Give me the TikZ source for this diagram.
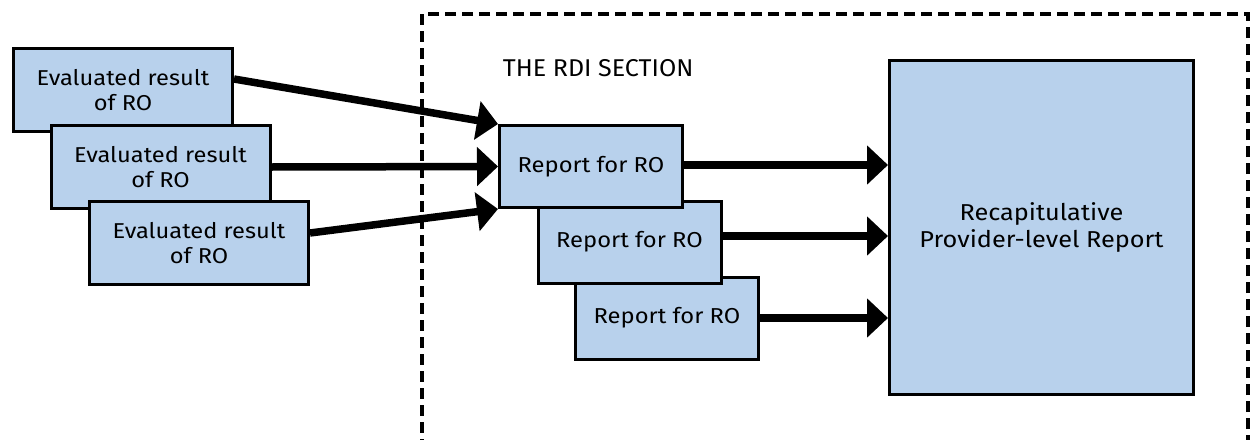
\documentclass[tikz,border=0pt]{standalone}
\usepackage{fontspec}
\setmainfont{Fira Sans}[FakeStretch=1.1]
\newfontfamily\titlefont{Fira Sans}[FakeStretch=1.03]
\usetikzlibrary{arrows.meta,calc}
\definecolor{boxblue}{RGB}{184,209,236}
\tikzset{
  evalbox/.style={draw=black, line width=3pt, fill=boxblue, minimum width=219pt, minimum height=83pt, inner sep=0pt, align=center, font=\fontsize{21.5}{25.3}\selectfont},
  repbox/.style={draw=black, line width=3pt, fill=boxblue, minimum width=183pt, minimum height=82pt, inner sep=0pt, align=center, font=\fontsize{21.6}{25}\selectfont},
  bigbox/.style={draw=black, line width=3pt, fill=boxblue, minimum width=304pt, minimum height=334pt, inner sep=0pt, align=center, font=\fontsize{23}{27}\selectfont},
  fatarrow/.style={line width=7.5pt, -{Triangle[length=21pt, width=38pt]}},
  sectionframe/.style={line width=3.5pt, dash pattern=on 11pt off 6pt}
}
\begin{document}
\begin{tikzpicture}[x=1pt, y=-1pt]
\useasboundingbox (0,0) rectangle (1257,439);
\clip (0,0) rectangle (1257,439);
\fill[white] (0,0) rectangle (1257,439);
\draw[sectionframe] (422,14) rectangle (1248,480);
\node[anchor=base west, inner sep=0pt, font=\titlefont\fontsize{24.3}{28}\selectfont] (title) at (502.7,76.7) {THE RDI SECTION};
\node[evalbox] (e1) at (123,90) {Evaluated result\\of RO};
\node[evalbox] (e2) at (160.5,167) {Evaluated result\\of RO};
\node[evalbox] (e3) at (199,243) {Evaluated result\\of RO};
\node[bigbox] (big) at (1041.5,227.5) {Recapitulative\\Provider-level Report};
\node[repbox] (r3) at (667,318) {Report for RO};
\node[repbox] (r2) at (629.5,242) {Report for RO};
\node[repbox] (r1) at (591,166.5) {Report for RO};
\coordinate (e1o) at ($(e1.east)+(0,-11)$);
\coordinate (e3o) at ($(e3.east)+(0,-10)$);
\coordinate (r1o) at ($(r1.east)+(0,-1.5)$);
\coordinate (r2o) at ($(r2.east)+(0,-6)$);
\draw[fatarrow] (e1o) -- (r1.north west);
\draw[fatarrow] (e2.east) -- (r1.west);
\draw[fatarrow] (e3o) -- (r1.south west);
\draw[fatarrow] (r1o) -- (r1o -| big.west);
\draw[fatarrow] (r2o) -- (r2o -| big.west);
\draw[fatarrow] (r3.east) -- (r3.east -| big.west);
\end{tikzpicture}
\end{document}
